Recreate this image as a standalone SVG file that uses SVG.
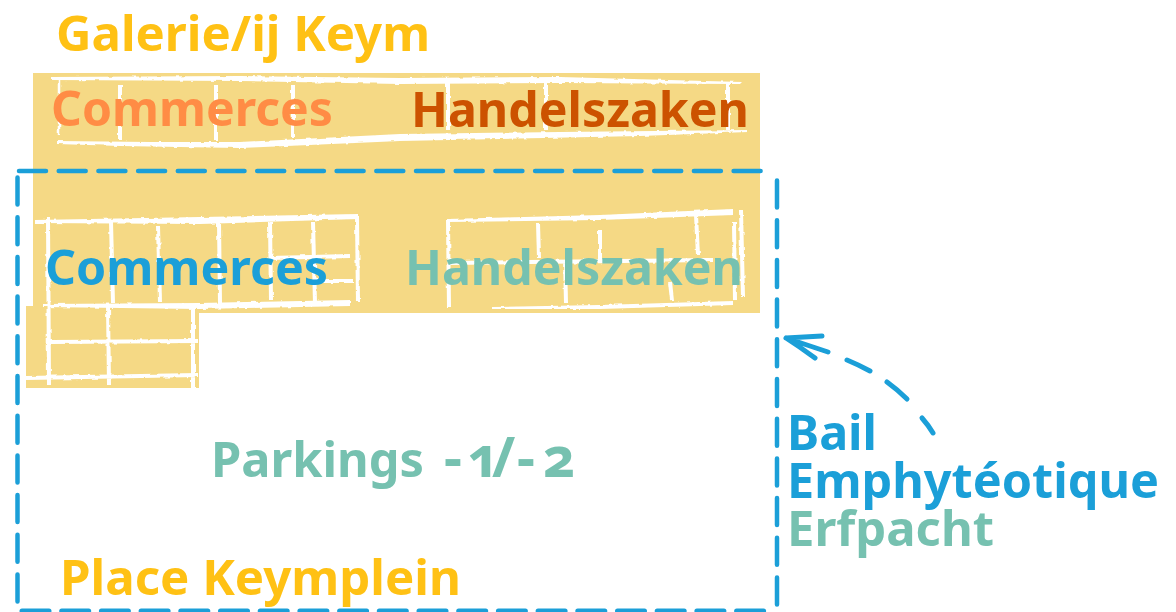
<svg xmlns="http://www.w3.org/2000/svg" width="1176" height="612" viewBox="0 0 1176 612">
<style>
text{font-family:"Noto Sans","Open Sans","Liberation Sans",sans-serif;font-weight:700;font-size:48px}
.gold{fill:#FFC114}.orange{fill:#FF8C45}.rust{fill:#CC5200}.blue{fill:#1B9FD8}.teal{fill:#76C1B0}
.w{fill:none;stroke:#fff;stroke-linecap:butt}
.f{fill:#fff}
.w2{stroke-width:2.5}.w3{stroke-width:4}
.dash{fill:none;stroke:#1B9FD8;stroke-width:4.500;stroke-linecap:round;stroke-dasharray:27 12.7}
.arrow{fill:none;stroke:#1B9FD8;stroke-width:5;stroke-linecap:round;stroke-linejoin:round}
</style>
<defs>
<filter id="rough" x="-5%" y="-5%" width="110%" height="110%" filterUnits="objectBoundingBox">
<feTurbulence type="fractalNoise" baseFrequency="0.14" numOctaves="2" seed="4" result="n"/>
<feDisplacementMap in="SourceGraphic" in2="n" scale="3" xChannelSelector="R" yChannelSelector="G"/>
</filter>
</defs>
<rect width="1176" height="612" fill="#fff"/>
<g id="building">
<path fill="#F5D985" d="M33 73H760V313H199V388H26V306H33Z"/>
<g filter="url(#rough)">
<path class="f" d="M52 77 L240 76 L400 78 L560 77 L742 82 L740 84 L560 83 L400 84 L240 81 L52 80Z"/>
<path class="f" d="M57 141 L150 142 L240 142 L400 134 L560 132 L748 130 L748 132 L640 136 L400 141 L240 148 L120 146 L57 144Z"/>
<path class="w w2" d="M59 78V135"/>
<path class="w w3" d="M120 85V140M216 85V140M293 85V137M448 83V130M546 83V130M728 83V130"/>
<path class="f" d="M35 220 L200 217 L358 214 L358 219 L200 224 L35 223Z"/>
<path class="w w3" d="M357 217 L358 302"/>
<path class="f" d="M43 304 L200 303 L350 300 L350 306 L200 309 L43 307Z"/>
<path class="w w3" d="M48 217 L49 385M111 222 L113 303M158 226 L160 302M219 222 L220 303M270 222 L271 300M313 222 L315 303"/>
<path class="w w3" d="M270 258 L350 256M316 281 L353 281"/>
<path class="w w3" d="M108 305 L109 385M193 305 L193 388M50 342 L198 341M26 378 L198 375"/>
<path class="f" d="M447 219 L600 215 L733 209 L733 215 L600 220 L447 222Z"/>
<path class="w w3" d="M448 220 L449 307M741 210 L743 297M734 222 L735 300"/>
<path class="f" d="M492 307 L600 305 L733 301 L733 305 L600 309 L492 309Z"/>
<path class="w w3" d="M538 223 L539 258M600 230 L600 260M696 215 L698 255M565 260 L566 303M670 282 L672 300M448 263 L713 260"/>
</g>
</g>
<g id="labels">
<text id="galerie" class="gold" x="56" y="51" textLength="374" lengthAdjust="spacingAndGlyphs">Galerie/ij Keym</text>
<text id="commerces-top" class="orange" x="51" y="126" textLength="282" lengthAdjust="spacingAndGlyphs">Commerces</text>
<text id="handelszaken-top" class="rust" x="411" y="127" textLength="338" lengthAdjust="spacingAndGlyphs">Handelszaken</text>
<text id="commerces-low" class="blue" x="45" y="285" textLength="283" lengthAdjust="spacingAndGlyphs">Commerces</text>
<text id="handelszaken-low" class="teal" x="405" y="285" textLength="338" lengthAdjust="spacingAndGlyphs">Handelszaken</text>
<text id="parkings" class="teal" x="211" y="477" style="font-variant-numeric:oldstyle-nums"><tspan textLength="213" lengthAdjust="spacingAndGlyphs">Parkings</tspan><tspan style="font-size:56px" x="444 467 492 517 543">-1/-2</tspan></text>
<text id="place" class="gold" x="60" y="595" textLength="401" lengthAdjust="spacingAndGlyphs">Place Keymplein</text>
<text id="bail" class="blue" x="787" y="450" textLength="90" lengthAdjust="spacingAndGlyphs">Bail</text>
<text id="emphyteotique" class="blue" x="787" y="498" textLength="372" lengthAdjust="spacingAndGlyphs">Emphytéotique</text>
<text id="erfpacht" class="teal" x="787" y="546" textLength="207" lengthAdjust="spacingAndGlyphs">Erfpacht</text>
</g>
<g id="connectors">
<path class="dash" d="M19 171H763"/>
<path class="dash" d="M17.500 177.500V612"/>
<path class="dash" d="M777 180.500V608"/>
<path class="dash" style="stroke-width:5" d="M22 611H770"/>
<path class="arrow" d="M933 433 Q929 426 922 418M907 399 Q898 390 887 382M870 371 Q859 365 847 360M815 358 Q800 347 786 338L822 336M786 338 L828 352"/>
</g>
</svg>
